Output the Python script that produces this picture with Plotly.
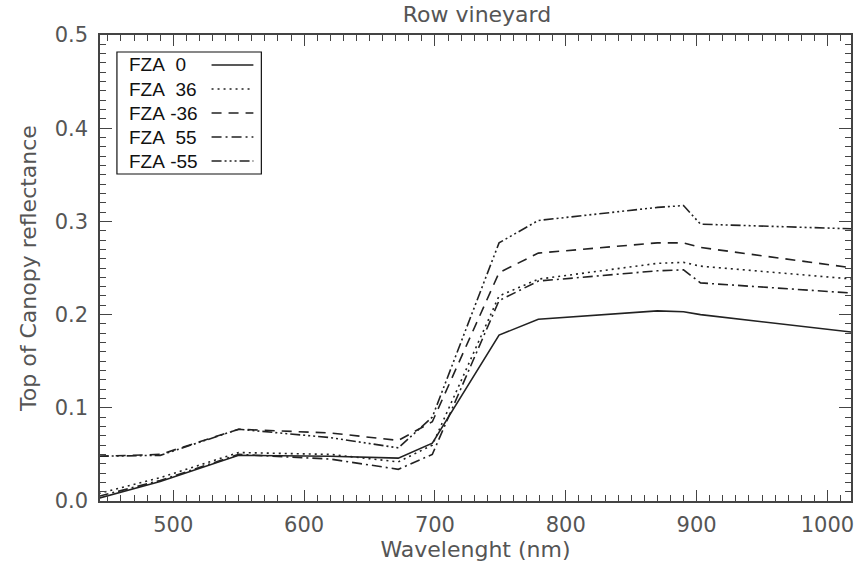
import plotly.graph_objects as go

wavelength = [443, 490, 550, 620, 672, 698, 749, 779, 870, 890, 903, 1020]
fza_0 = [0.003, 0.021, 0.049, 0.048, 0.046, 0.062, 0.178, 0.195, 0.204, 0.203, 0.200, 0.181]
fza_36 = [0.008, 0.025, 0.052, 0.050, 0.042, 0.060, 0.220, 0.238, 0.255, 0.256, 0.252, 0.238]
fza_m36 = [0.048, 0.050, 0.077, 0.073, 0.065, 0.085, 0.245, 0.266, 0.277, 0.277, 0.272, 0.250]
fza_55 = [0.005, 0.022, 0.050, 0.045, 0.034, 0.050, 0.215, 0.236, 0.247, 0.248, 0.234, 0.223]
fza_m55 = [0.048, 0.049, 0.077, 0.068, 0.057, 0.090, 0.277, 0.301, 0.315, 0.317, 0.297, 0.292]

labels = ["FZA  0", "FZA  36", "FZA -36", "FZA  55", "FZA -55"]
series = [fza_0, fza_36, fza_m36, fza_55, fza_m55]
dashes = ["solid", "2px,4px", "10px,7px", "10px,4px,2px,4px",
          "10px,3px,2px,3px,2px,3px,2px,3px"]

LINE = "#222222"
AX = "#444444"
TXT = "#555555"

fig = go.Figure()
for lab, ys, d in zip(labels, series, dashes):
    fig.add_trace(go.Scatter(x=wavelength, y=ys, mode="lines", name=lab,
                             line=dict(color=LINE, width=1.6, dash=d),
                             showlegend=False))

# manual legend (text left, line sample right)
px0, pw, py0, ph = 100, 754, 501, 466
def px(x):
    return (x - px0) / pw
def py(y):
    return (py0 - y) / ph

fig.add_shape(type="rect", xref="paper", yref="paper",
              x0=px(117), x1=px(262), y0=py(174), y1=py(52),
              line=dict(color="#111111", width=1.2), fillcolor="white")
rows = [65, 89, 113, 137, 161]
for lab, d, ry in zip(labels, dashes, rows):
    fig.add_annotation(xref="paper", yref="paper", x=px(127), y=py(ry),
                       text=lab.replace(" ", "&nbsp;"), showarrow=False,
                       xanchor="left", yanchor="middle",
                       font=dict(family="Liberation Sans, Arial", size=19, color="#111111"))
    fig.add_shape(type="line", xref="paper", yref="paper",
                  x0=px(212), x1=px(254), y0=py(ry), y1=py(ry),
                  line=dict(color=LINE, width=1.3, dash=d))

axis_common = dict(showline=True, linecolor=AX, linewidth=1.5, mirror="allticks",
                   ticks="inside", tickcolor=AX, showgrid=False, zeroline=False,
                   tickfont=dict(family="DejaVu Sans", size=21, color=TXT))

fig.update_xaxes(range=[444, 1018], tick0=500, dtick=100, ticklen=11, tickwidth=1.3,
                 ticklabelstandoff=4,
                 minor=dict(dtick=10, ticklen=6, tickcolor=AX, ticks="inside", tickwidth=1.1),
                 title=dict(text="Wavelenght (nm)", standoff=6,
                            font=dict(family="DejaVu Sans", size=22, color=TXT)),
                 **axis_common)
fig.update_yaxes(range=[0, 0.5], tick0=0, dtick=0.1, tickformat=".1f", ticklen=12, tickwidth=1.3,
                 ticklabelstandoff=6,
                 minor=dict(dtick=0.01, ticklen=6, tickcolor=AX, ticks="inside", tickwidth=1.1),
                 title=dict(text="Top of Canopy reflectance", standoff=12,
                            font=dict(family="DejaVu Sans", size=22, color=TXT)),
                 **axis_common)

fig.update_layout(
    width=862, height=573,
    margin=dict(l=100, r=8, t=35, b=72),
    paper_bgcolor="white", plot_bgcolor="white",
    title=dict(text="Row vineyard", x=(100 + 754 / 2) / 862, xanchor="center",
               y=1 - 14 / 573, yanchor="middle",
               font=dict(family="DejaVu Sans", size=22, color=TXT)),
)

fig.write_html("out.html")
